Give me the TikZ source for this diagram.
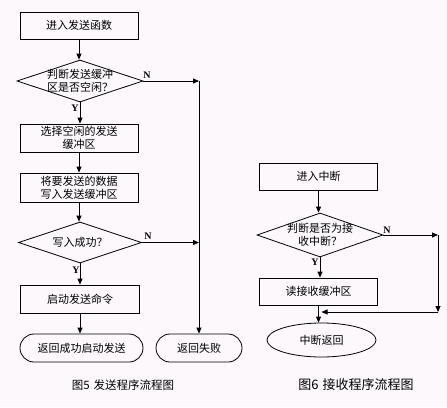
\documentclass[tikz,border=0pt]{standalone}
\usepackage{fontspec}
\setmainfont{Noto Sans CJK SC}
\newfontfamily\ynfont{Liberation Serif}
\usetikzlibrary{shapes.geometric,arrows.meta}
\definecolor{bgc}{RGB}{252,248,252}
\begin{document}
\begin{tikzpicture}[x=1pt,y=-1pt,
  every node/.style={font=\fontsize{11}{13}\selectfont, text=black},
  procbox/.style={draw=black, line width=0.8pt, rectangle, minimum width=118pt, minimum height=28pt, inner sep=0pt, align=center},
  decision/.style={draw=black, line width=0.8pt, diamond, minimum width=126pt, minimum height=42pt, inner sep=0pt},
  termbox/.style={draw=black, line width=0.8pt, rectangle, rounded corners=14pt, minimum height=28pt, inner sep=0pt},
  endell/.style={draw=black, line width=0.8pt, ellipse, minimum width=109pt, minimum height=34pt, inner sep=0pt},
  yn/.style={font=\ynfont\fontsize{10}{10}\selectfont\bfseries, inner sep=0pt},
  arr/.style={line width=0.8pt, -{Triangle[length=6pt,width=5pt]}},
  captext/.style={inner sep=0pt}]
\fill[bgc] (0,0) rectangle (447,407);
\useasboundingbox (0,0) rectangle (447,407);

% left flowchart
\node[procbox, minimum height=27pt] (b1) at (79,25.5) {进入发送函数};
\node[decision] (d1) at (80,81) {};
\node (d1t) at (80,81) {\shortstack{判断发送缓冲\\区是否空闲？}};
\node[procbox] (b2) at (79,138) {选择空闲的发送\\缓冲区};
\node[procbox, minimum height=29pt] (b3) at (79,187.5) {将要发送的数据\\写入发送缓冲区};
\node[decision, minimum width=123pt, minimum height=41pt] (d2) at (80,242.5) {};
\node (d2t) at (80,242.5) {写入成功？};
\node[procbox, minimum width=119pt] (b4) at (80,299) {启动发送命令};
\node[termbox, minimum width=123pt] (t1) at (81.5,348) {返回成功启动发送};
\node[termbox, minimum width=86pt] (t2) at (199,348) {返回失败};
\coordinate (j1) at (199,81);
\coordinate (j2) at (199,242.5);

\draw[arr] (b1.south) -- (b1.south |- d1.north);
\draw[arr] (d1.south) -- (d1.south |- b2.north);
\draw[arr] (b2.south) -- (b3.north);
\draw[arr] (b3.south) -- (b3.south |- d2.north);
\draw[arr] (d2.south) -- (d2.south |- b4.north);
\draw[arr] (b4.south) -- (b4.south |- t1.north);
\draw[arr] (d1.east) -- (j1);
\draw[arr] (d2.east) -- (j2);
\draw[arr] (j1) -- (t2.north);
\node[yn] (n1) at (147,75) {N};
\node[yn] (y1) at (75,108) {Y};
\node[yn] (n2) at (148,236) {N};
\node[yn] (y2) at (76,270) {Y};

% right flowchart
\node[procbox, minimum height=27pt] (r1) at (318.5,176.5) {进入中断};
\node[decision, minimum height=44pt] (d3) at (320,235) {};
\node (d3t) at (320,235) {\shortstack{判断是否为接\\收中断？}};
\node[procbox, minimum height=27pt] (r2) at (318.5,291.5) {读接收缓冲区};
\node[endell] (e1) at (321.5,340) {中断返回};
\coordinate (j3) at (438,235);
\coordinate (j4) at (438,312);
\coordinate (j5) at (320,312);

\draw[arr] (r1.south) -- (r1.south |- d3.north);
\draw[arr] (d3.south) -- (d3.south |- r2.north);
\draw[arr] (d3.east) -- (j3);
\draw[arr] (j3) -- (j4);
\draw[arr] (j4) -- ([xshift=1.5pt]j5);
\draw[arr] (r2.south) -- (r2.south |- e1.north);
\node[yn] (n3) at (387,230) {N};
\node[yn] (y3) at (315,262) {Y};

% captions
\node[captext, font=\fontsize{11.5}{12}\selectfont] (c5) at (123,385) {图5\hspace{4pt}发送程序流程图};
\node[captext, font=\fontsize{13}{14}\selectfont] (c6) at (356,385) {图6\hspace{4pt}接收程序流程图};
\end{tikzpicture}
\end{document}
